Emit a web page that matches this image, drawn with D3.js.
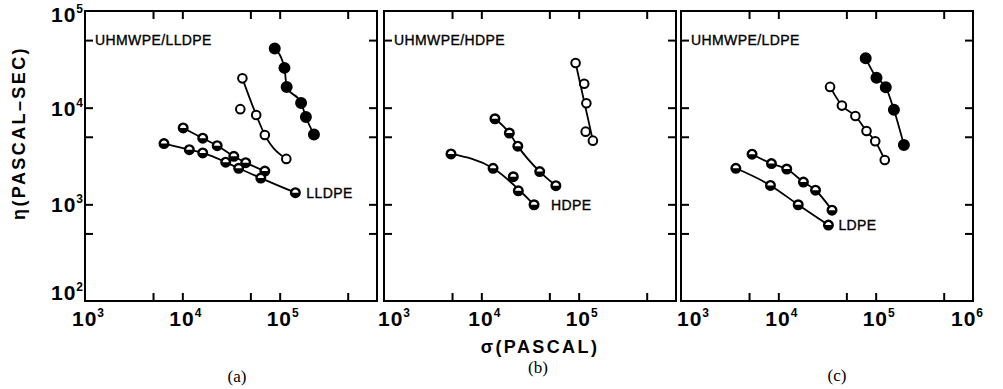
<!DOCTYPE html>
<html>
  <head>
    <meta charset="utf-8"/>
    <script src="https://cdn.jsdelivr.net/npm/d3@7"></script>
    <style type="text/css">

html, body {
  margin: 0;
  padding: 0;
  background: #fff;
}

svg text {
  fill: #000;
}

.tick-label {
  font: bold 21px "Liberation Sans", Arial, sans-serif;
  letter-spacing: 1px;
}

.tick-label .sup {
  font-size: 12px;
}

.inner-label {
  font: 14px "Liberation Sans", Arial, sans-serif;
  letter-spacing: 0.4px;
  stroke: #000;
  stroke-width: 0.35px;
}

.axis-title {
  font: bold 18px "Liberation Sans", Arial, sans-serif;
  letter-spacing: 2.4px;
}

.panel-name {
  font: 17px "Liberation Serif", "Times New Roman", serif;
}

    </style>
  </head>
  <body>
    <svg id="chart" width="1003" height="389"></svg>
    <script type="text/javascript">

// panel titles and curve labels
var panelNames = ["(a)", "(b)", "(c)"];
var blendNames = ["UHMWPE/LLDPE", "UHMWPE/HDPE", "UHMWPE/LDPE"];
var baseNames = ["LLDPE", "HDPE", "LDPE"];

// axis ticks (powers of ten get a label, the 5x ones only a tick)
var xTickValues = [5e3, 1e4, 5e4, 1e5, 5e5];
var yTickValues = [5e2, 1e3, 5e3, 1e4, 5e4];
var xLabelPowers = [[3, 4, 5], [3, 4, 5], [3, 4, 5, 6]];
var yLabelPowers = [5, 4, 3, 2];

// (a) UHMWPE/LLDPE: stress (Pa) and viscosity (Pa s)
var aFilledStress = [8.9e4, 1.12e5, 1.18e5, 1.66e5, 1.86e5, 2.25e5];
var aFilledVisc   = [4.1e4, 2.58e4, 1.64e4, 1.12e4, 8.0e3, 5.28e3];
var aOpenStress   = [4.14e4, 3.94e4, 5.74e4, 7.04e4, 1.17e5];
var aOpenVisc     = [2.01e4, 9.65e3, 8.4e3, 5.22e3, 2.95e3];
var aOpenOnLine   = [1, 0, 1, 1, 1];
var aUpperStress  = [1.02e4, 1.62e4, 2.28e4, 3.38e4, 4.48e4, 7.04e4];
var aUpperVisc    = [6.17e3, 4.83e3, 4.04e3, 3.14e3, 2.70e3, 2.21e3];
var aLowerStress  = [6.48e3, 1.18e4, 1.62e4, 2.79e4, 3.79e4, 6.40e4, 1.45e5];
var aLowerVisc    = [4.25e3, 3.68e3, 3.40e3, 2.73e3, 2.36e3, 1.87e3, 1.32e3];

// (b) UHMWPE/HDPE
var bOpenStress   = [9.3e4, 1.14e5, 1.20e5, 1.18e5, 1.40e5];
var bOpenVisc     = [2.90e4, 1.77e4, 1.11e4, 5.65e3, 4.56e3];
var bOpenOnLine   = [1, 0, 0, 0, 1];
var bUpperStress  = [1.38e4, 1.94e4, 2.37e4, 3.98e4, 5.83e4];
var bUpperVisc    = [7.68e3, 5.47e3, 4.00e3, 2.18e3, 1.56e3];
var bLowerStress  = [4.88e3, 1.32e4, 2.13e4, 2.40e4, 3.48e4];
var bLowerVisc    = [3.32e3, 2.36e3, 1.93e3, 1.38e3, 9.9e2];
var bLowerOnLine  = [1, 1, 0, 0, 1];

// (c) UHMWPE/LDPE
var cFilledStress = [7.9e4, 1.02e5, 1.27e5, 1.54e5, 1.95e5];
var cFilledVisc   = [3.24e4, 2.04e4, 1.63e4, 9.5e3, 4.11e3];
var cOpenStress   = [3.40e4, 4.50e4, 6.19e4, 8.05e4, 9.9e4, 1.24e5];
var cOpenVisc     = [1.64e4, 1.05e4, 8.2e3, 5.74e3, 4.50e3, 2.88e3];
var cUpperStress  = [5.37e3, 8.5e3, 1.22e4, 1.81e4, 2.41e4, 3.56e4];
var cUpperVisc    = [3.30e3, 2.64e3, 2.32e3, 1.70e3, 1.40e3, 8.7e2];
var cLowerStress  = [3.66e3, 8.3e3, 1.60e4, 3.27e4];
var cLowerVisc    = [2.36e3, 1.57e3, 9.9e2, 6.1e2];

function makeSeries(panel, kind, xs, ys, onLine) {
  return {
    panel: panel,
    kind: kind,
    points: xs.map(function(x, i) {
      return {x: x, y: ys[i], onLine: onLine ? onLine[i] === 1 : true};
    })
  };
}

var series = [
  makeSeries(0, "filled", aFilledStress, aFilledVisc),
  makeSeries(0, "open", aOpenStress, aOpenVisc, aOpenOnLine),
  makeSeries(0, "half", aUpperStress, aUpperVisc),
  makeSeries(0, "half", aLowerStress, aLowerVisc),
  makeSeries(1, "open", bOpenStress, bOpenVisc, bOpenOnLine),
  makeSeries(1, "half", bUpperStress, bUpperVisc),
  makeSeries(1, "half", bLowerStress, bLowerVisc, bLowerOnLine),
  makeSeries(2, "filled", cFilledStress, cFilledVisc),
  makeSeries(2, "open", cOpenStress, cOpenVisc),
  makeSeries(2, "half", cUpperStress, cUpperVisc),
  makeSeries(2, "half", cLowerStress, cLowerVisc)
];

// layout
var panelLeft = [85, 384, 681],
    panelWidth = 292,
    plotTop = 11,
    plotBottom = 301,
    tickLen = 8,
    markerR = 4.3;
// where each base polymer label sits, relative to the last point of its lowest curve
var baseLabelDx = [11, 17, 10];

var svg = d3.select("#chart");

var y = d3.scaleLog().domain([1e2, 1e5]).range([plotBottom, plotTop]);

panelNames.forEach(function(name, p) {
  var left = panelLeft[p],
      right = left + panelWidth,
      prevRight = p > 0 ? panelLeft[p - 1] + panelWidth : -Infinity;
  var x = d3.scaleLog().domain([1e3, 1e6]).range([left, right]);

  var g = svg.append("g").attr("class", "panel");

  // inward ticks on all four sides
  var axes = [
    {axis: d3.axisBottom(x).tickValues(xTickValues), t: "translate(0," + plotBottom + ")"},
    {axis: d3.axisTop(x).tickValues(xTickValues), t: "translate(0," + plotTop + ")"},
    {axis: d3.axisLeft(y).tickValues(yTickValues), t: "translate(" + left + ",0)"},
    {axis: d3.axisRight(y).tickValues(yTickValues), t: "translate(" + right + ",0)"}
  ];
  axes.forEach(function(a) {
    var ag = g.append("g")
        .attr("transform", a.t)
        .call(a.axis.tickSize(-tickLen).tickFormat(""));
    ag.select(".domain").remove();
    ag.selectAll(".tick line").attr("stroke", "#000").attr("stroke-width", 2);
  });

  g.append("rect")
      .attr("x", left)
      .attr("y", plotTop)
      .attr("width", panelWidth)
      .attr("height", plotBottom - plotTop)
      .attr("fill", "none")
      .attr("stroke", "#000")
      .attr("stroke-width", 2);

  // x tick labels: the "10" is centred on the tick, exponent to its right,
  // kept clear of the neighbouring frame
  xLabelPowers[p].forEach(function(k) {
    var x0 = x(Math.pow(10, k)) - 13;
    x0 = Math.min(right - 22, Math.max(prevRight + 1, x0));
    var t = g.append("text")
        .attr("class", "tick-label")
        .attr("x", x0)
        .attr("y", 326);
    t.append("tspan").text("10");
    t.append("tspan").attr("class", "sup").attr("dy", -9).text(k);
  });

  // blend label in the upper left
  g.append("text")
      .attr("class", "inner-label")
      .attr("x", left + 10)
      .attr("y", y(5e4) + 5)
      .text(blendNames[p]);

  var line = d3.line()
      .x(function(d) { return x(d.x); })
      .y(function(d) { return y(d.y); })
      .curve(d3.curveMonotoneX);

  var mine = series.filter(function(s) { return s.panel === p; });

  mine.forEach(function(s) {
    var onLine = s.points.filter(function(d) { return d.onLine; })
        .sort(function(a, b) { return a.x - b.x; });
    g.append("path")
        .attr("d", line(onLine))
        .attr("fill", "none")
        .attr("stroke", "#000")
        .attr("stroke-width", 1.8);
  });

  mine.forEach(function(s) {
    var m = g.selectAll(null)
        .data(s.points)
      .enter().append("g")
        .attr("transform", function(d) {
          return "translate(" + x(d.x) + "," + y(d.y) + ")";
        });
    m.append("circle")
        .attr("r", s.kind === "filled" ? markerR + 0.7 : markerR)
        .attr("fill", s.kind === "filled" ? "#000" : "#fff")
        .attr("stroke", "#000")
        .attr("stroke-width", s.kind === "half" ? 2.4 : 2);
    if (s.kind === "half") {
      m.append("path")
          .attr("d", "M" + (-markerR) + ",0A" + markerR + "," + markerR + " 0 0 0 " + markerR + ",0Z")
          .attr("fill", "#000");
    }
  });

  // base polymer label next to the lowest curve's last point
  var lowest = mine[mine.length - 1].points;
  var last = lowest[lowest.length - 1];
  g.append("text")
      .attr("class", "inner-label")
      .attr("x", x(last.x) + baseLabelDx[p])
      .attr("y", y(last.y) + 5)
      .text(baseNames[p]);
});

// y tick labels, only on the first panel
yLabelPowers.forEach(function(k) {
  var yy = Math.max(22, Math.min(300, y(Math.pow(10, k)) + 8));
  var t = svg.append("text")
      .attr("class", "tick-label")
      .attr("x", 84)
      .attr("y", yy)
      .attr("text-anchor", "end");
  t.append("tspan").text("10");
  t.append("tspan").attr("class", "sup").attr("dy", -9).text(k);
});

svg.append("text")
    .attr("class", "axis-title")
    .attr("transform", "translate(25,133) rotate(-90)")
    .attr("text-anchor", "middle")
    .text("η(PASCAL–SEC)");

svg.append("text")
    .attr("class", "axis-title")
    .attr("x", 540)
    .attr("y", 353)
    .attr("text-anchor", "middle")
    .text("σ(PASCAL)");

var nameX = [237, 538, 837],
    nameY = [382, 373, 381];
panelNames.forEach(function(name, p) {
  svg.append("text")
      .attr("class", "panel-name")
      .attr("x", nameX[p])
      .attr("y", nameY[p])
      .attr("text-anchor", "middle")
      .text(name);
});

    </script>
  </body>
</html>
